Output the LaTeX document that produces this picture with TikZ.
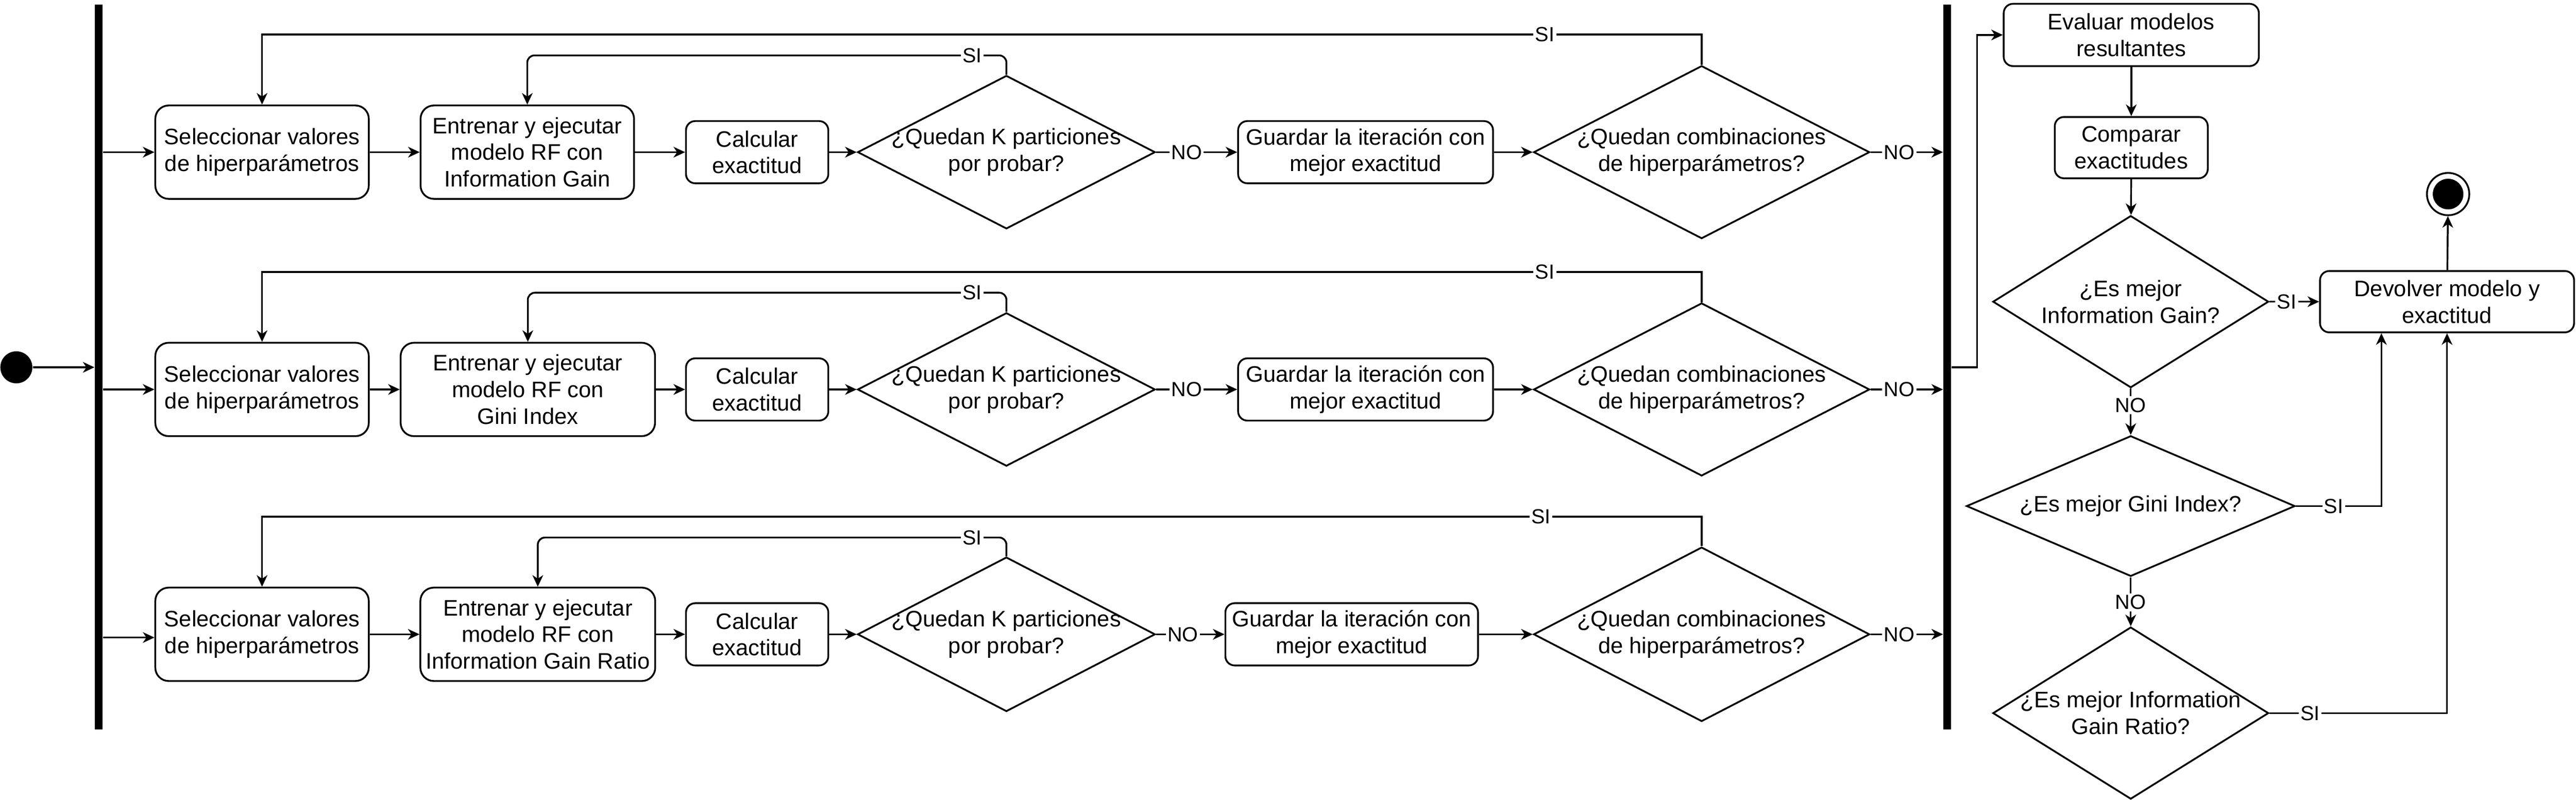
\documentclass[tikz,border=0pt]{standalone}
\usepackage{fontspec}
\setmainfont{Liberation Sans}
\usetikzlibrary{shapes.geometric,arrows.meta}
\tikzset{
  base/.style={font=\fontsize{12.6}{15}\selectfont, align=center, inner sep=0pt},
  act/.style={base, draw, rectangle, rounded corners=7.5pt, line width=1pt},
  sact/.style={act, rounded corners=5.2pt},
  dec/.style={draw, diamond, inner sep=0pt, line width=1pt},
  lbl/.style={font=\fontsize{11.5}{13.8}\selectfont, fill=white, inner sep=1pt},
  arr/.style={line width=1pt, -{Stealth[length=6.5pt,width=6pt,inset=2pt]}},
  barnode/.style={fill=black, inner sep=0pt, minimum width=4.4pt, minimum height=407.3pt},
  tall/.style={minimum height=52.5pt},
  short/.style={minimum height=35pt},
}
\begin{document}
\begin{tikzpicture}[x=1pt,y=-1pt]
\useasboundingbox (0,0) rectangle (1448,449.6);

% start and bars
\node[circle, fill=black, minimum size=18pt, inner sep=0pt] (start) at (9.19,206.5) {};
\node[barnode] (bar1) at (55.5,206.3) {};
\node[barnode] (bar2) at (1094.6,206.3) {};

% ---------- row 1 ----------
\node[act, tall, minimum width=120pt] (b1r1) at (147.3,85.55) {Seleccionar valores\\de hiperparámetros};
\node[act, tall, minimum width=120pt] (b2r1) at (296.4,85.55) {Entrenar y ejecutar\\modelo RF con\\Information Gain};
\node[sact, short, minimum width=80pt] (b3r1) at (425.6,85.55) {Calcular\\exactitud};
\node[dec, minimum width=167.3pt, minimum height=86.2pt] (d1r1) at (565.7,85.55) {};
\node[base] (d1r1t) at (d1r1) {¿Quedan K particiones\\por probar?};
\node[sact, short, minimum width=143.3pt] (b4r1) at (767.6,85.55) {Guardar la iteración con\\mejor exactitud};
\node[dec, minimum width=188.9pt, minimum height=97.2pt] (d2r1) at (956.5,85.55) {};
\node[base] (d2r1t) at (d2r1) {¿Quedan combinaciones\\de hiperparámetros?};

% ---------- row 2 ----------
\node[act, tall, minimum width=120pt] (b1r2) at (147.3,218.95) {Seleccionar valores\\de hiperparámetros};
\node[act, tall, minimum width=143pt] (b2r2) at (296.7,218.95) {Entrenar y ejecutar\\modelo RF con\\Gini Index};
\node[sact, short, minimum width=80pt] (b3r2) at (425.6,218.95) {Calcular\\exactitud};
\node[dec, minimum width=167.3pt, minimum height=86.2pt] (d1r2) at (565.7,218.95) {};
\node[base] (d1r2t) at (d1r2) {¿Quedan K particiones\\por probar?};
\node[sact, short, minimum width=143.3pt] (b4r2) at (767.6,218.95) {Guardar la iteración con\\mejor exactitud};
\node[dec, minimum width=188.9pt, minimum height=97.2pt] (d2r2) at (956.5,218.95) {};
\node[base] (d2r2t) at (d2r2) {¿Quedan combinaciones\\de hiperparámetros?};

% ---------- row 3 ----------
\node[act, tall, minimum width=120pt] (b1r3) at (147.3,356.6) {Seleccionar valores\\de hiperparámetros};
\node[act, tall, minimum width=132pt] (b2r3) at (302.3,356.6) {Entrenar y ejecutar\\modelo RF con\\Information Gain Ratio};
\node[sact, short, minimum width=80pt] (b3r3) at (425.6,356.6) {Calcular\\exactitud};
\node[dec, minimum width=167.3pt, minimum height=86.8pt] (d1r3) at (565.7,356.6) {};
\node[base] (d1r3t) at (d1r3) {¿Quedan K particiones\\por probar?};
\node[sact, short, minimum width=142pt] (b4r3) at (759.8,356.6) {Guardar la iteración con\\mejor exactitud};
\node[dec, minimum width=188.9pt, minimum height=98pt] (d2r3) at (956.5,356.6) {};
\node[base] (d2r3t) at (d2r3) {¿Quedan combinaciones\\de hiperparámetros?};

% ---------- right column ----------
\node[sact, minimum width=143.4pt, minimum height=35pt] (eval) at (1198,19.65) {Evaluar modelos\\resultantes};
\node[sact, minimum width=86pt, minimum height=34.5pt] (comp) at (1198,83) {Comparar\\exactitudes};
\node[dec, minimum width=155pt, minimum height=96.7pt] (dig) at (1197.7,169.6) {};
\node[base] (digt) at (dig) {¿Es mejor\\Information Gain?};
\node[dec, minimum width=184.7pt, minimum height=79pt] (dgini) at (1197.7,284.5) {};
\node[base] (dginit) at (dgini) {¿Es mejor Gini Index?};
\node[dec, minimum width=155pt, minimum height=96.7pt] (digr) at (1197.7,400.9) {};
\node[base] (digrt) at (digr) {¿Es mejor Information\\Gain Ratio?};
\node[sact, minimum width=142.8pt, minimum height=34.5pt] (dev) at (1375.5,169.6) {Devolver modelo y\\exactitud};
\node[circle, draw, line width=1pt, minimum size=23.8pt, inner sep=0pt] (fin) at (1376.1,109.1) {};
\node[circle, fill=black, minimum size=17.2pt, inner sep=0pt] (findot) at (fin) {};

% ---------- connectors ----------
\draw[arr] (start) -- (bar1.west |- start);

% row 1
\draw[arr] (bar1.east |- b1r1) -- (b1r1);
\draw[arr] (b1r1) -- (b2r1);
\draw[arr] (b2r1) -- (b3r1);
\draw[arr] (b3r1) -- (d1r1);
\draw[arr] (d1r1) -- (b4r1);
\draw[arr] (b4r1) -- (d2r1);
\draw[arr] (d2r1) -- (bar2.west |- d2r1);
\draw[arr, rounded corners=4pt] (d1r1.north) |- (b2r1.north |- 0,31.15) -- (b2r1.north);
\draw[arr] (d2r1.north) |- (b1r1.north |- 0,19.45) -- (b1r1.north);

% row 2
\draw[arr] (bar1.east |- b1r2) -- (b1r2);
\draw[arr] (b1r2) -- (b2r2);
\draw[arr] (b2r2) -- (b3r2);
\draw[arr] (b3r2) -- (d1r2);
\draw[arr] (d1r2) -- (b4r2);
\draw[arr] (b4r2) -- (d2r2);
\draw[arr] (d2r2) -- (bar2.west |- d2r2);
\draw[arr, rounded corners=4pt] (d1r2.north) |- (b2r2.north |- 0,164.55) -- (b2r2.north);
\draw[arr] (d2r2.north) |- (b1r2.north |- 0,152.85) -- (b1r2.north);

% row 3
\coordinate (r3in) at (55.5,358.4);
\draw[arr] (bar1.east |- r3in) -- (b1r3.west |- r3in);
\draw[arr] (b1r3) -- (b2r3);
\draw[arr] (b2r3) -- (b3r3);
\draw[arr] (b3r3) -- (d1r3);
\draw[arr] (d1r3) -- (b4r3);
\draw[arr] (b4r3) -- (d2r3);
\draw[arr] (d2r3) -- (bar2.west |- d2r3);
\draw[arr, rounded corners=4pt] (d1r3.north) |- (b2r3.north |- 0,302.2) -- (b2r3.north);
\draw[arr] (d2r3.north) |- (b1r3.north |- 0,290.5) -- (b1r3.north);

% right column
\coordinate (jn) at (1111.4,206.5);
\draw[arr] (bar2.east |- jn) -- (jn) |- (eval.west);
\draw[arr] (eval) -- (comp);
\draw[arr] (comp) -- (dig);
\draw[arr] (dig) -- (dgini);
\draw[arr] (dgini) -- (digr);
\draw[arr] (dig) -- (dev);
\coordinate (gx) at (1338.6,0);
\draw[arr] (dgini.east) -| (gx |- dev.south);
\draw[arr] (digr.east) -| (dev.south);
\draw[arr] (dev) -- (fin);

% ---------- labels ----------
\node[lbl] (si1a) at (546.4,31.15) {SI};
\node[lbl] (si1b) at (868.3,19.45) {SI};
\node[lbl] (no1a) at (667,85.55) {NO};
\node[lbl] (no1b) at (1067.6,85.55) {NO};
\node[lbl] (si2a) at (546.4,164.55) {SI};
\node[lbl] (si2b) at (868.3,152.85) {SI};
\node[lbl] (no2a) at (667,218.95) {NO};
\node[lbl] (no2b) at (1067.6,218.95) {NO};
\node[lbl] (si3a) at (546.4,302.2) {SI};
\node[lbl] (si3b) at (866.2,290.5) {SI};
\node[lbl] (no3a) at (664.9,356.6) {NO};
\node[lbl] (no3b) at (1067.6,356.6) {NO};
\node[lbl] (noig) at (1197.7,227.8) {NO};
\node[lbl] (nogini) at (1197.7,338.6) {NO};
\node[lbl] (siig) at (1285.4,169.6) {SI};
\node[lbl] (sigini) at (1311.8,284.5) {SI};
\node[lbl] (siigr) at (1298.6,400.9) {SI};
\end{tikzpicture}
\end{document}
